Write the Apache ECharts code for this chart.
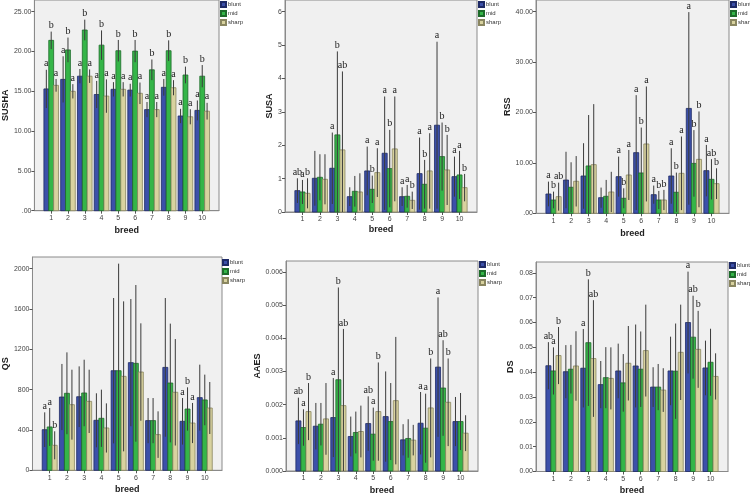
<!DOCTYPE html>
<html>
<head>
<meta charset="utf-8">
<script src="https://cdn.jsdelivr.net/npm/echarts@6/dist/echarts.min.js"></script>
<style>
  html, body { margin: 0; padding: 0; background: #fff; }
  #chart { width: 750px; height: 496px; }
</style>
</head>
<body>
<div id="chart"></div>
<script>
const breeds = [1, 2, 3, 4, 5, 6, 7, 8, 9, 10];
const groups = ["blunt", "mid", "sharp"];

// SUSHA
const sushaMean = [
  [15.3, 16.5, 16.9, 14.6, 15.25, 15.15, 12.7, 15.5, 11.9, 12.6],
  [21.4, 20.2, 22.7, 20.8, 20.1, 20.05, 17.7, 20.1, 17.05, 16.9],
  [15.75, 15.0, 16.9, 14.4, 15.25, 14.75, 12.7, 15.45, 11.8, 12.5]
];
const sushaErr = [
  [2.4, 2.9, 0.9, 1.7, 0.9, 0.8, 0.95, 1.05, 0.9, 1.25],
  [1.1, 1.55, 1.3, 1.85, 1.35, 1.4, 1.3, 1.3, 1.05, 1.4],
  [0.8, 0.9, 0.85, 2.1, 0.9, 1.35, 0.95, 0.95, 0.95, 1.05]
];
const sushaSig = [
  ["a", "a", "a", "a", "a", "a", "a", "a", "a", "a"],
  ["b", "b", "b", "b", "b", "b", "b", "b", "b", "b"],
  ["a", "a", "a", "a", "a", "a", "a", "a", "a", "a"]
];
const sushaTicks = [0, 5, 10, 15, 20, 25];

// SUSA
const susaMean = [
  [0.64, 1.01, 1.31, 0.46, 1.23, 1.76, 0.46, 1.15, 2.6, 1.06],
  [0.6, 1.04, 2.31, 0.62, 0.68, 1.3, 0.47, 0.83, 1.66, 1.11],
  [0.56, 0.98, 1.86, 0.6, 1.18, 1.89, 0.35, 1.23, 1.26, 0.73]
];
const susaErr = [
  [0.37, 0.82, 1.07, 0.28, 0.73, 1.7, 0.28, 1.08, 2.5, 0.6],
  [0.36, 0.69, 2.5, 0.46, 0.41, 1.16, 0.34, 0.73, 1.02, 0.72],
  [0.45, 0.75, 2.35, 0.56, 0.73, 1.57, 0.26, 1.13, 1.05, 0.41]
];
const susaSig = [
  ["ab", "", "a", "", "a", "a", "a", "a", "a", "a"],
  ["a", "", "b", "", "b", "b", "a", "b", "b", "a"],
  ["b", "", "ab", "", "a", "a", "b", "a", "b", "b"]
];
const susaTicks = [0, 1, 2, 3, 4, 5, 6];

// RSS
const rssMean = [
  [3.83, 6.6, 7.4, 3.1, 7.27, 12.03, 3.7, 7.4, 20.8, 8.46],
  [2.64, 5.16, 9.39, 3.37, 2.98, 8.0, 2.64, 4.17, 9.9, 6.74],
  [3.3, 6.35, 9.65, 4.23, 7.6, 13.75, 2.64, 7.93, 10.7, 5.88]
];
const rssErr = [
  [2.45, 5.6, 6.5, 2.0, 3.97, 11.4, 1.8, 5.5, 19.1, 5.1],
  [1.66, 4.96, 10.1, 3.25, 1.98, 9.0, 1.8, 3.9, 6.6, 4.0],
  [2.78, 5.0, 12.0, 4.0, 4.96, 11.4, 2.0, 7.3, 9.5, 3.05]
];
const rssSig = [
  ["a", "", "", "", "a", "a", "a", "a", "a", "a"],
  ["b", "", "", "", "b", "b", "b", "b", "b", "ab"],
  ["ab", "", "", "", "a", "a", "b", "a", "b", "b"]
];
const rssTicks = [0, 10, 20, 30, 40];

// QS
const qsMean = [
  [403, 727, 730, 496, 988, 1068, 493, 1021, 486, 721],
  [430, 764, 767, 516, 988, 1061, 493, 866, 608, 698],
  [248, 651, 684, 420, 932, 975, 354, 774, 469, 618]
];
const qsErr = [
  [172, 328, 301, 268, 721, 631, 224, 688, 231, 327],
  [188, 406, 330, 284, 1062, 777, 224, 589, 215, 251],
  [139, 347, 314, 244, 744, 483, 231, 528, 199, 258]
];
const qsSig = [
  ["a", "", "", "", "", "", "", "", "a", ""],
  ["a", "", "", "", "", "", "", "", "b", ""],
  ["b", "", "", "", "", "", "", "", "a", ""]
];
const qsTicks = [0, 400, 800, 1200, 1600, 2000];

// AAES
const aaesMean = [
  [0.00151, 0.00135, 0.00161, 0.00104, 0.00143, 0.00164, 0.00094, 0.00144, 0.00313, 0.00149],
  [0.00131, 0.00141, 0.00275, 0.00116, 0.00111, 0.00149, 0.00098, 0.00129, 0.0025, 0.00149],
  [0.00179, 0.00157, 0.00197, 0.00119, 0.00179, 0.00212, 0.00093, 0.0019, 0.00207, 0.00114]
];
const aaesErr = [
  [0.0007, 0.0007, 0.00119, 0.0006, 0.00082, 0.00136, 0.00047, 0.00094, 0.0021, 0.00074],
  [0.00055, 0.00064, 0.00278, 0.00063, 0.0008, 0.00116, 0.00058, 0.00104, 0.00144, 0.00086],
  [0.00086, 0.00108, 0.00231, 0.00078, 0.00148, 0.00192, 0.00046, 0.00149, 0.00132, 0.00054]
];
const aaesSig = [
  ["ab", "", "a", "", "ab", "", "", "a", "a", ""],
  ["a", "", "b", "", "a", "", "", "a", "ab", ""],
  ["b", "", "ab", "", "b", "", "", "b", "b", ""]
];
const aaesTicks = [0, 0.001, 0.002, 0.003, 0.004, 0.005, 0.006];

// DS
const dsMean = [
  [0.0426, 0.0402, 0.0416, 0.035, 0.0405, 0.0425, 0.034, 0.0405, 0.06, 0.0417],
  [0.0405, 0.0412, 0.0519, 0.0378, 0.0357, 0.0412, 0.034, 0.0404, 0.0541, 0.044],
  [0.0467, 0.0425, 0.0455, 0.0375, 0.0436, 0.0487, 0.0328, 0.048, 0.0492, 0.0383]
];
const dsErr = [
  [0.0095, 0.0107, 0.0158, 0.0095, 0.011, 0.0167, 0.008, 0.0138, 0.0205, 0.011],
  [0.0095, 0.0098, 0.0255, 0.0123, 0.0116, 0.0152, 0.0093, 0.0192, 0.0167, 0.0135],
  [0.0115, 0.014, 0.0235, 0.0125, 0.015, 0.0185, 0.0088, 0.0192, 0.0155, 0.0093]
];
const dsSig = [
  ["ab", "", "a", "", "", "", "", "", "a", ""],
  ["a", "", "b", "", "", "", "", "", "ab", ""],
  ["b", "", "ab", "", "", "", "", "", "b", ""]
];
const dsTicks = [0, 0.01, 0.02, 0.03, 0.04, 0.05, 0.06, 0.07, 0.08];

const fills = ["#3c50a9", "#35b548", "#d8d29f"];
const strokes = ["#1e2a66", "#1d6b2a", "#8a8660"];
const FONT = "Liberation Sans";

const fmt2 = v => (v === 0 ? ".00" : v.toFixed(2));

const panels = [
  { name: "SUSHA", mean: sushaMean, err: sushaErr, sig: sushaSig, ticks: sushaTicks, max: 26.47, fmt: fmt2,
    box: { left: 28, top: 0, width: 191, height: 210.7 }, nameGap: 19, breedGap: 15, legend: { left: 220, top: 1 } },
  { name: "SUSA", mean: susaMean, err: susaErr, sig: susaSig, ticks: susaTicks, max: 6.35, fmt: v => String(v),
    box: { left: 285, top: 0, width: 192, height: 212 }, nameGap: 10, breedGap: 13.5, legend: { left: 478, top: 1 } },
  { name: "RSS", mean: rssMean, err: rssErr, sig: rssSig, ticks: rssTicks, max: 42.3, fmt: fmt2,
    box: { left: 536, top: 0, width: 193, height: 213.3 }, nameGap: 20, breedGap: 15.5, legend: { left: 730, top: 1 } },
  { name: "QS", mean: qsMean, err: qsErr, sig: qsSig, ticks: qsTicks, max: 2116, fmt: v => String(v),
    box: { left: 29, top: 257, width: 193, height: 213.3 }, nameGap: 19.5, breedGap: 15, legend: { left: 222, top: 259 } },
  { name: "AAES", mean: aaesMean, err: aaesErr, sig: aaesSig, ticks: aaesTicks, max: 0.006327, fmt: v => v.toFixed(3),
    box: { left: 286, top: 261, width: 192, height: 212.7 }, nameGap: 10, breedGap: 15, legend: { left: 479, top: 261 } },
  { name: "DS", mean: dsMean, err: dsErr, sig: dsSig, ticks: dsTicks, max: 0.08438, fmt: v => v.toFixed(2),
    box: { left: 536, top: 262, width: 192, height: 212 }, nameGap: 19, breedGap: 14.5, legend: { left: 729, top: 262 } }
];

// one bar + error bar + letter per breed
function makeRender(g, sig) {
  return function (params, api) {
    const x = api.value(0);
    const m = api.value(1);
    const e = api.value(2);
    const unit = api.size([1, 0])[0];
    const w = unit * 0.29;
    const base = api.coord([x, 0]);
    const top = api.coord([x, m]);
    const hi = api.coord([x, m + e]);
    const lo = api.coord([x, Math.max(m - e, 0)]);
    const cx = base[0] + (g - 1) * w;
    const children = [
      {
        type: "rect",
        shape: { x: cx - w / 2, y: top[1], width: w, height: base[1] - top[1] },
        style: { fill: fills[g], stroke: strokes[g], lineWidth: 0.8 }
      },
      {
        type: "line",
        shape: { x1: cx, y1: lo[1], x2: cx, y2: hi[1] },
        style: { stroke: "#3a3a3a", lineWidth: 1 }
      }
    ];
    const s = sig[params.dataIndex];
    if (s) {
      children.push({
        type: "text",
        x: cx,
        y: hi[1] - 1,
        style: {
          text: s,
          align: "center",
          verticalAlign: "bottom",
          font: '10px "Liberation Serif"',
          fill: "#222"
        }
      });
    }
    return { type: "group", children: children };
  };
}

const grid = [], xAxis = [], yAxis = [], legend = [], series = [];

panels.forEach((p, i) => {
  grid.push(Object.assign({
    show: true,
    backgroundColor: "#f0f0f0",
    borderColor: "#8a8a8a",
    borderWidth: 1
  }, p.box));

  xAxis.push({
    gridIndex: i,
    type: "value",
    min: 0,
    max: 11,
    name: "breed",
    nameLocation: "middle",
    nameGap: p.breedGap,
    nameTextStyle: { fontFamily: FONT, fontWeight: "bold", fontSize: 9, color: "#222" },
    axisLine: { show: true, onZero: false, lineStyle: { color: "#8a8a8a" } },
    axisTick: { show: true, length: 3, customValues: breeds, lineStyle: { color: "#555" } },
    axisLabel: { customValues: breeds, fontFamily: FONT, fontSize: 7, color: "#444", margin: 4 },
    splitLine: { show: false }
  });

  yAxis.push({
    gridIndex: i,
    type: "value",
    min: 0,
    max: p.max,
    name: p.name,
    nameLocation: "middle",
    nameGap: p.nameGap,
    nameTextStyle: { fontFamily: FONT, fontWeight: "bold", fontSize: 9, color: "#222" },
    axisLine: { show: true, lineStyle: { color: "#8a8a8a" } },
    axisTick: { show: true, length: 3, customValues: p.ticks, lineStyle: { color: "#555" } },
    axisLabel: { customValues: p.ticks, formatter: p.fmt, fontFamily: FONT, fontSize: 7, color: "#444", margin: 3 },
    splitLine: { show: false }
  });

  legend.push({
    left: p.legend.left,
    top: p.legend.top,
    orient: "vertical",
    data: groups,
    icon: "rect",
    itemWidth: 5,
    itemHeight: 5,
    itemGap: 2,
    padding: 0,
    selectedMode: false,
    textStyle: { fontFamily: FONT, fontSize: 6, color: "#333", padding: [0, 0, 0, -3] }
  });

  groups.forEach((name, g) => {
    series.push({
      type: "custom",
      name: name,
      xAxisIndex: i,
      yAxisIndex: i,
      itemStyle: { color: fills[g], borderColor: strokes[g], borderWidth: 0.6 },
      data: breeds.map((b, k) => [b, p.mean[g][k], p.err[g][k]]),
      renderItem: makeRender(g, p.sig[g])
    });
  });
});

const chart = echarts.init(document.getElementById("chart"));
chart.setOption({
  animation: false,
  backgroundColor: "#fff",
  grid: grid,
  xAxis: xAxis,
  yAxis: yAxis,
  legend: legend,
  series: series
});
</script>
</body>
</html>
